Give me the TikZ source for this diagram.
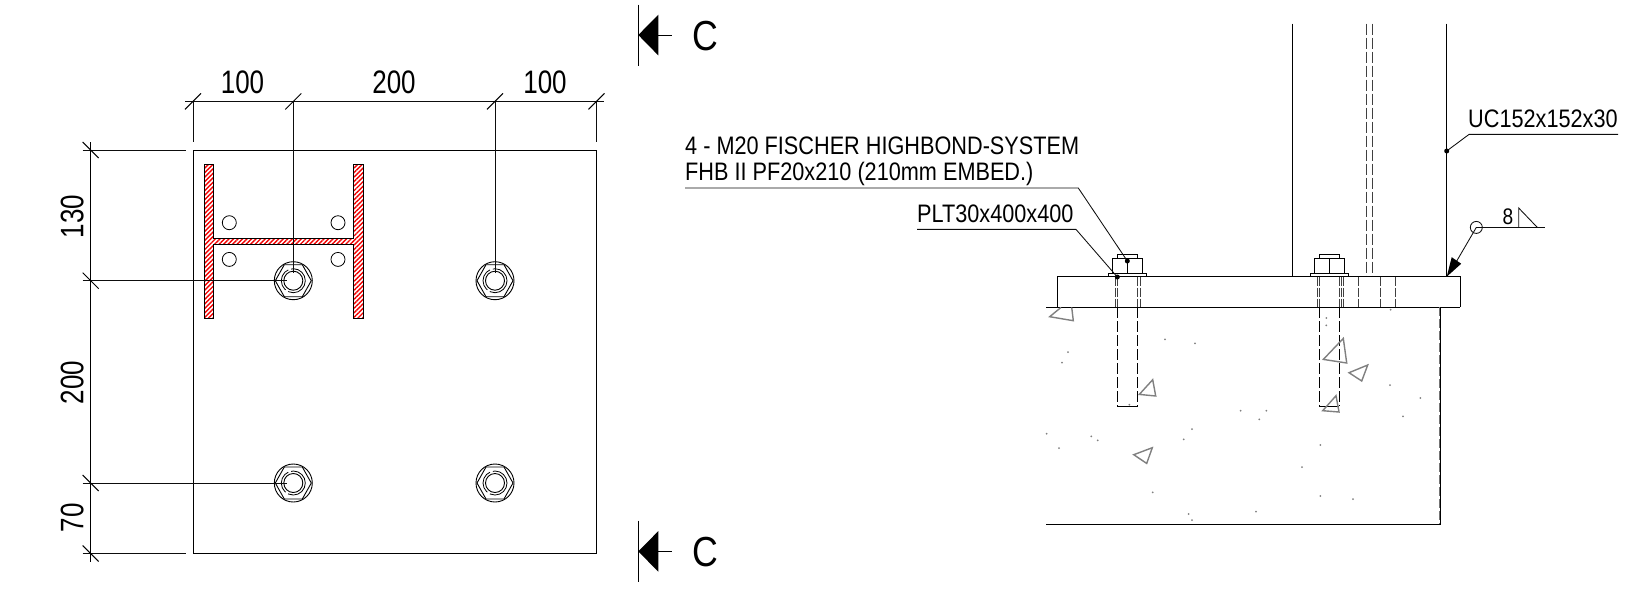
\documentclass[tikz,border=0pt]{standalone}
\usepackage{fontspec}
\setmainfont[FakeStretch=0.85]{Liberation Sans}
\newfontfamily\labfont[FakeStretch=0.857]{Liberation Sans}
\newfontfamily\dimfont[FakeStretch=0.8]{Liberation Sans}
\usetikzlibrary{patterns.meta}
\tikzset{
  ln/.style={line width=1pt,black},
  thin ln/.style={line width=0.85pt,black!95},
  dash ln/.style={line width=0.9pt,black,dash pattern=on 11pt off 3pt},
  holedash/.style={line width=0.9pt,black!75,dash pattern=on 9pt off 2pt},
  tick/.style={line width=1pt,black},
  dimtext/.style={inner sep=0,font=\dimfont\fontsize{32.5}{32.5}\selectfont},
  lab/.style={inner sep=0,anchor=base west,font=\labfont\fontsize{25.3}{25.3}\selectfont},
  sect/.style={inner sep=0,anchor=base,font=\fontsize{42}{42}\selectfont},
  hatchfill/.style={pattern={Lines[angle=45,distance=3.2pt,line width=1.4pt]},pattern color=red!95!black},
  rock/.style={draw=black!50,line width=1.4pt,line join=miter},
  speck/.style={fill=black!50,draw=none},
  dotb/.style={fill=black,draw=none},
}
\newcommand{\boltplan}[1]{%
  \begin{scope}[shift={(#1)}]
    \draw[ln,line width=0.9pt] (0,0) circle (19);
    \draw[ln,line width=0.9pt] (-18,0) -- (-9,-16) -- (9,-16) -- (18,0) -- (9,16) -- (-9,16) -- cycle;
    \draw[ln,line width=0.8pt,dash pattern=on 24pt off 3pt] (0,0) circle (12);
    \draw[ln,line width=0.9pt] (0,0) circle (9.5);
  \end{scope}}
\newcommand{\boltelev}[1]{%
  \begin{scope}[shift={(#1,0)}]
    \draw[ln] (-19.3,276) -- (-19.3,272.7) -- (19,272.7) -- (19,276);
    \draw[ln] (-15.3,272.7) -- (-15.3,257.3) -- (15,257.3) -- (15,272.7);
    \draw[ln] (-10.3,257.3) -- (-10.3,254) -- (10,254) -- (10,257.3);
    \draw[ln] (0,257.3) -- (0,272.7);
    \foreach \xx in {-12,-10,10,12.3}{\draw[holedash] (\xx,276) -- (\xx,306.7);}
    \draw[dash ln] (-10.3,306.7) -- (-10.3,405.3);
    \draw[dash ln] (10,306.7) -- (10,405.3);
    \draw[ln] (-10.3,405.3) -- (10,405.3);
  \end{scope}}
\begin{document}
\begin{tikzpicture}[x=1pt,y=-1pt]
\useasboundingbox (0,0) rectangle (1629,590);
\begin{scope}[yshift=-0.7pt]
% --- plan: plate
\draw[ln,line width=0.9pt] (193,149.3) rectangle (596.5,552.8);
% H section
\draw[ln,line width=0.9pt,hatchfill]
  (204,163.3) -- (213.7,163.3) -- (213.7,237.3) -- (353.3,237.3) -- (353.3,163.3) -- (363.3,163.3)
  -- (363.3,317.3) -- (353.3,317.3) -- (353.3,243.7) -- (213.7,243.7) -- (213.7,317.3) -- (204,317.3) -- cycle;
% small holes
\foreach \cx in {229.3,338}{\foreach \cy in {222,258.7}{\draw[ln,line width=0.8pt] (\cx,\cy) circle (7);}}
% bolts
\boltplan{293.3,280}
\boltplan{495,280}
\boltplan{293.3,482.3}
\boltplan{495,482.3}

% dimensions top
\coordinate (dt0) at (193,100.7);
\coordinate (dt1) at (293.3,100.7);
\coordinate (dt2) at (495,100.7);
\coordinate (dt3) at (596.5,100.7);
\draw[thin ln] (185,100.7) -- (604,100.7);
\draw[thin ln] (dt0) -- (193,141.7);
\draw[thin ln] (dt3) -- (596.5,141.7);
\draw[thin ln] (dt1) -- (293.3,272);
\draw[thin ln] (dt2) -- (495,272);
\foreach \p in {dt0,dt1,dt2,dt3}{\draw[tick] ([shift={(-8,8)}]\p) -- ([shift={(8,-8)}]\p);}
\node[dimtext,anchor=base] (t100a) at (242.5,92.3) {100};
\node[dimtext,anchor=base] (t200a) at (394,92.3) {200};
\node[dimtext,anchor=base] (t100b) at (545,92.3) {100};

% dimensions left
\coordinate (dl0) at (90.7,149.3);
\coordinate (dl1) at (90.7,280);
\coordinate (dl2) at (90.7,482.3);
\coordinate (dl3) at (90.7,552.8);
\draw[ln] (90.7,141.7) -- (90.7,561);
\draw[thin ln] (82.7,149.3) -- (185.7,149.3);
\draw[thin ln] (82.7,552.8) -- (185.7,552.8);
\draw[thin ln] (82.7,280) -- (286.7,280);
\draw[thin ln] (82.7,482.3) -- (286.7,482.3);
\foreach \p in {dl0,dl1,dl2,dl3}{\draw[tick] ([shift={(-8,-8)}]\p) -- ([shift={(8,8)}]\p);}
\node[dimtext,anchor=base,rotate=90] (t130) at (83.3,215.7) {130};
\node[dimtext,anchor=base,rotate=90] (t200b) at (83.3,381.7) {200};
\node[dimtext,anchor=base,rotate=90] (t70) at (83.3,517) {70};

% --- section marks
\draw[ln] (638.3,4) -- (638.3,65);
\draw[ln] (658.3,34.3) -- (671.7,34.3);
\fill (638.3,34.3) -- (658.3,14) -- (658.3,54.7) -- cycle;
\node[sect] (c1) at (705,49.7) {C};
\draw[ln] (638.3,520) -- (638.3,581);
\draw[ln] (658.3,550.7) -- (671.7,550.7);
\fill (638.3,550.7) -- (658.3,530.4) -- (658.3,571) -- cycle;
\node[sect] (c2) at (705,566) {C};

% --- elevation: column
\draw[ln] (1292.7,23) -- (1292.7,276);
\draw[ln] (1446.7,23) -- (1446.7,276);
\draw[dash ln,black!75] (1366,23) -- (1366,276);
\draw[dash ln,black!75] (1372.7,23) -- (1372.7,276);
% plate
\draw[ln] (1057,306.7) -- (1057,276) -- (1460.3,276) -- (1460.3,306.7);
\draw[ln] (1046,306.7) -- (1460.3,306.7);
% concrete
\draw[ln] (1440.3,306.7) -- (1440.3,523.3) -- (1046,523.3);
\draw[line width=1pt,black!55,dash pattern=on 9pt off 3pt] (1439.6,306.7) -- (1439.6,523.3);
% plate hole lines
\foreach \xx in {1343.7,1358,1380.7,1395}{\draw[holedash] (\xx,276) -- (\xx,306.7);}
% bolts
\boltelev{1127.7}
\boltelev{1329.3}

% aggregate
\draw[rock] (1061,306.7) -- (1049.7,316) -- (1073.3,320) -- (1071.7,306.7);
\draw[rock] (1139.3,393.7) -- (1152.7,379) -- (1155.7,395.3) -- cycle;
\draw[rock] (1323.3,358.7) -- (1343.3,337.7) -- (1346.7,362.3) -- cycle;
\draw[rock] (1349,372) -- (1367.7,364.3) -- (1361.7,380.3) -- cycle;
\draw[rock] (1322.7,410) -- (1336,395) -- (1339,411.3) -- cycle;
\draw[rock] (1133.7,454) -- (1152.3,447) -- (1146.7,462.7) -- cycle;
\foreach \xx/\yy in {375/326,465/338,84/364,66/396,268/522,859/262,859/284}
  {\fill[speck] ({1040+\xx/3},{230+\yy/3}) circle (1);}
\foreach \xx/\yy in {20/99,154/107,173/119,57/142,456/85,431/116,602/30,679/30,658/56,1089/47,841/133,786/199,338/275,446/340,456/358,648/333,841/286,939/295}
  {\fill[speck] ({1040+\xx/3},{400+\yy/3}) circle (1);}
\foreach \xx/\yy in {272/327,270/553,361/592}
  {\fill[speck] ({1300+\xx/3},{200+\yy/3}) circle (1);}

% --- labels
\node[lab] (l1) at (685,153.3) {4 - M20 FISCHER HIGHBOND-SYSTEM};
\node[lab] (l2) at (685,179.3) {FHB II PF20x210 (210mm EMBED.)};
\coordinate (ld1a) at (685,187.3);
\coordinate (ld1b) at (1078.3,187.3);
\coordinate (ld1c) at (1127.3,260.3);
\draw[thin ln] (ld1a) -- (ld1b) -- (ld1c);
\fill[dotb] (ld1c) circle (2.5);

\node[lab] (l3) at (917,221.7) {PLT30x400x400};
\coordinate (ld2a) at (917,228.7);
\coordinate (ld2b) at (1076,228.7);
\coordinate (ld2c) at (1117.3,276.3);
\draw[thin ln] (ld2a) -- (ld2b) -- (ld2c);
\fill[dotb] (ld2c) circle (2.5);

\node[lab] (l4) at (1468,126.7) {UC152x152x30};
\coordinate (ld3a) at (1618,133.7);
\coordinate (ld3b) at (1469,133.7);
\coordinate (ld3c) at (1446.7,150.3);
\draw[thin ln] (ld3a) -- (ld3b) -- (ld3c);
\fill[dotb] (ld3c) circle (2.5);

% --- weld symbol
\coordinate (wc) at (1476.3,226.7);
\coordinate (wt) at (1446.7,276);
\draw[thin ln] (wc) circle (6);
\draw[thin ln] (1476.3,226.7) -- (1545,226.7);
\draw[thin ln] (1518.7,226.7) -- (1518.7,207.3) -- (1537.3,226.7);
\draw[thin ln] (wc) -- (1456.7,260.3);
\fill (wt) -- (1451.7,256.5) -- (1461.2,263) -- cycle;
\node[inner sep=0,anchor=base,font=\fontsize{22.5}{22.5}\selectfont] (w8) at (1508,224) {8};
\end{scope}
\end{tikzpicture}
\end{document}
